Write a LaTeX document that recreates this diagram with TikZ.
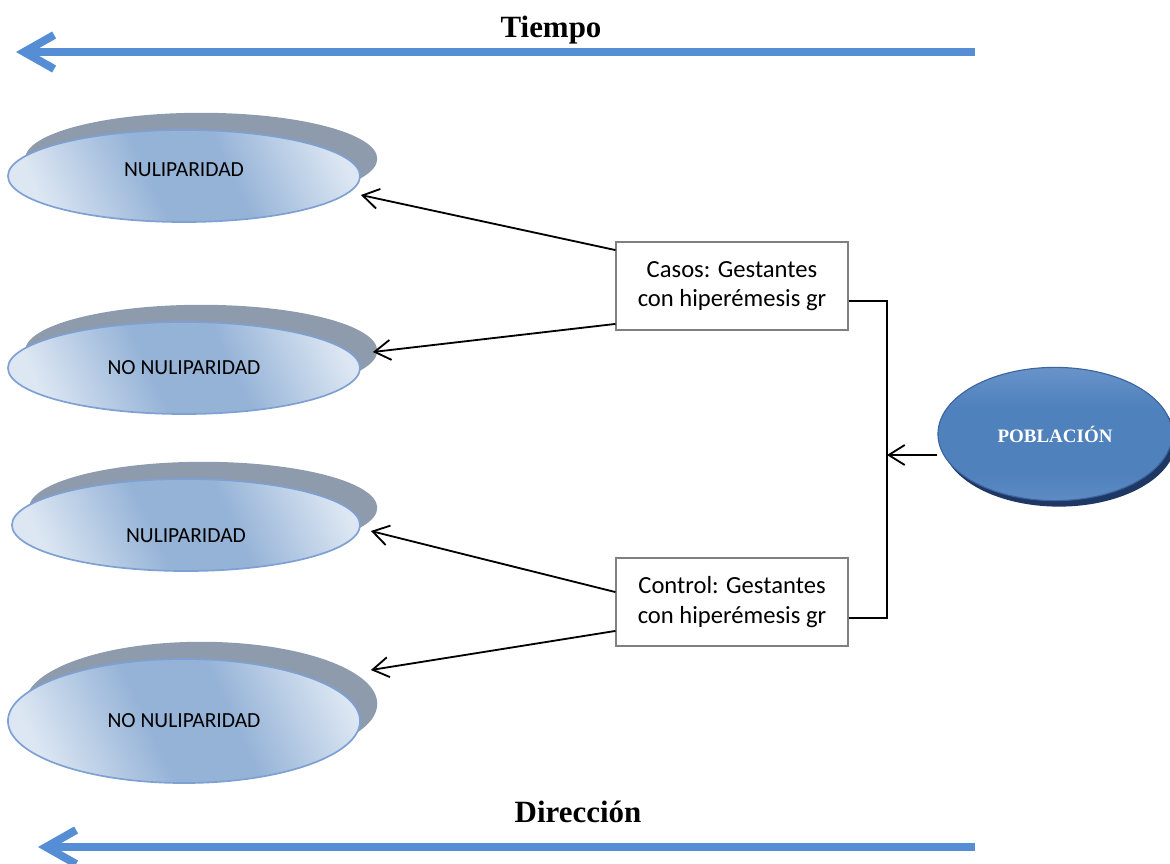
\documentclass[tikz,border=0pt]{standalone}
\usepackage{fontspec}
\setmainfont{Liberation Serif}
\newfontfamily\carlito{Carlito}
\usepackage{tikz}
\usetikzlibrary{shapes.geometric, arrows.meta, calc, shadows}
\definecolor{cArrow}{RGB}{85,142,213}
\definecolor{cShadow}{RGB}{141,155,173}
\definecolor{cEdge}{RGB}{126,160,210}
\definecolor{cLight}{RGB}{221,231,243}
\definecolor{cMid}{RGB}{149,179,215}
\definecolor{cBoxEdge}{RGB}{128,128,128}
\definecolor{cPopTop}{RGB}{145,178,220}
\definecolor{cPopMid}{RGB}{79,129,189}
\definecolor{cPopBot}{RGB}{130,165,210}
\definecolor{cPopEdge}{RGB}{60,100,160}
\definecolor{cPopShadow}{RGB}{31,56,99}
\pgfdeclarehorizontalshading{outcomeshade}{100bp}{color(0bp)=(cLight); color(24bp)=(cLight); color(44bp)=(cMid); color(58bp)=(cMid); color(78bp)=(cLight); color(100bp)=(cLight)}
\pgfdeclareverticalshading{popshade}{100bp}{color(0bp)=(cPopBot); color(35bp)=(cPopMid); color(60bp)=(cPopMid); color(100bp)=(cPopTop)}
\tikzset{
    outcome/.style  ={ellipse, minimum width=8.8cm, minimum height=2.3cm, inner sep=0pt, draw=cEdge, line width=1.2pt, shading=outcomeshade, shading angle=25, general shadow={fill=cShadow, shadow xshift=0.43cm, shadow yshift=0.43cm}, font=\carlito\fontsize{15.3}{18}\selectfont},
    groupbox/.style ={rectangle, draw=cBoxEdge, line width=1.3pt, fill=white, minimum width=5.78cm, minimum height=2.2cm, align=center, font=\carlito\fontsize{17.5}{21}\selectfont},
    popnode/.style  ={ellipse, minimum width=5.85cm, minimum height=3.33cm, inner sep=0pt, draw=cPopEdge, line width=0.8pt, shading=popshade, general shadow={fill=cPopShadow, shadow xshift=0.1cm, shadow yshift=-0.15cm}, text=white, font=\bfseries\fontsize{13.5}{16}\selectfont},
    heading/.style  ={font=\bfseries\fontsize{22}{26}\selectfont},
    flowarrow/.style={-{Straight Barb[length=4mm, width=5mm]}, line width=1.3pt},
    link/.style     ={line width=1.3pt},
    timearrow/.style={-{Straight Barb[length=7.5mm, width=8.5mm]}, line width=5.7pt, draw=cArrow},
}
\begin{document}
\begin{tikzpicture}[x=0.025cm, y=-0.025cm]
                \useasboundingbox (0,0) rectangle (1170,863);
                \node[heading] (tiempo) at (551,30) {Tiempo};
                \coordinate (tStart) at (975,52);
                \coordinate (tEnd) at (16,52);
                \draw[timearrow] (tStart) -- (tEnd);
                \node[outcome] (nul1) at (184,176) {\raisebox{0pt}[0pt][0pt]{NULIPARIDAD}};
                \node[outcome] (nonul1) at (184,368) {NO NULIPARIDAD};
                \node[outcome, minimum width=8.7cm] (nul2) at (186,525) {\raisebox{-0.425cm}[0pt][0pt]{NULIPARIDAD}};
                \node[outcome, minimum height=3.1cm] (nonul2) at (184,721) {NO NULIPARIDAD};
                \node[groupbox] (casos) at (732,286) {Casos: Gestantes\\con hiperémesis gr};
                \node[groupbox] (control) at (732,602) {Control: Gestantes\\con hiperémesis gr};
                \node[popnode] (pob) at (1055,434) {POBLACIÓN};
                \coordinate (br) at (887,455);
                \draw[flowarrow] ($(casos.north west)+(0,9)$) -- ($(nul1.east)+(0,19)$);
                \draw[flowarrow] ($(casos.south west)+(0,-7)$) -- ($(nonul1.east)+(12,-16)$);
                \draw[flowarrow] ($(control.north west)+(0,35)$) -- ($(nul2.east)+(10,6)$);
                \draw[flowarrow] ($(control.south west)+(0,-16)$) -- ($(nonul2.east)+(10,-51)$);
                \draw[link] ($(casos.east)+(0,15)$) -| (br) |- ($(control.east)+(0,16)$);
                \draw[flowarrow] (br -| pob.west) -- (br);
                \node[heading] (direccion) at (578,812) {Dirección};
                \coordinate (dStart) at (975,847);
                \coordinate (dEnd) at (38,847);
                \draw[timearrow] (dStart) -- (dEnd);
            \end{tikzpicture}
\end{document}
